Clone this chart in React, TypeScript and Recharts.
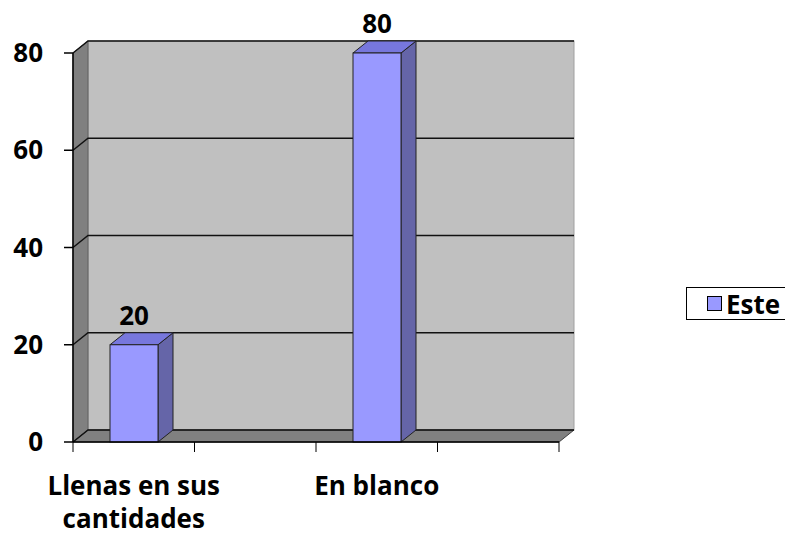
import {
  Bar,
  BarChart,
  CartesianGrid,
  LabelList,
  Legend,
  ReferenceArea,
  Text,
  XAxis,
  YAxis,
} from "recharts";

const categories = ["Llenas en sus cantidades", "", "En blanco", ""];
const esteValues = [20, null, 80, null];
const yTicks = [0, 20, 40, 60, 80];

const data = categories.map((name, i) => ({ name, este: esteValues[i] }));

// 3D depth of the walls and bars
const DX = 15;
const DY = 12;

const FONT = "'Open Sans', 'Noto Sans', sans-serif";
const FONT_SIZE = 26;
const LABEL_STYLE = { fontFamily: FONT, fontSize: FONT_SIZE, fontWeight: 700 };

const BAR_FRONT = "#9999ff";
const BAR_TOP = "#7777dd";
const BAR_SIDE = "#6565a8";

function Walls(props: any) {
  const { x, y, width, height } = props;
  const bottom = y + height;
  const right = x + width;
  return (
    <g>
      <rect x={x + DX} y={y - DY} width={width} height={height} fill="#c0c0c0" stroke="#a0a0a0" />
      <polygon
        points={`${x},${y} ${x + DX},${y - DY} ${x + DX},${bottom - DY} ${x},${bottom}`}
        fill="#808080"
        stroke="#606060"
      />
      <polygon
        points={`${x},${bottom} ${x + DX},${bottom - DY} ${right + DX},${bottom - DY} ${right},${bottom}`}
        fill="#808080"
        stroke="#404040"
      />
    </g>
  );
}

function GridLine(props: any) {
  const { x1, y1, x2 } = props;
  return (
    <polyline
      points={`${x1},${y1} ${x1 + DX},${y1 - DY} ${x2 + DX},${y1 - DY}`}
      fill="none"
      stroke="#111"
      strokeWidth={1.5}
    />
  );
}

function Bar3D(props: any) {
  const { x, y, width, height, value } = props;
  if (value == null || !height) return null;
  const r = x + width;
  const b = y + height;
  return (
    <g stroke="#222" strokeWidth={1}>
      <polygon points={`${r},${y} ${r + DX},${y - DY} ${r + DX},${b - DY} ${r},${b}`} fill={BAR_SIDE} />
      <polygon points={`${x},${y} ${x + DX},${y - DY} ${r + DX},${y - DY} ${r},${y}`} fill={BAR_TOP} />
      <rect x={x} y={y} width={width} height={height} fill={BAR_FRONT} />
    </g>
  );
}

const TICK_SIZE = 10;
const TICK_MARGIN = 25;

function CategoryTick(props: any) {
  const { x, y, payload, index, visibleTicksCount } = props;
  const half = payload.offset ?? 0;
  const axisY = y - TICK_MARGIN - TICK_SIZE;
  const isLast = index === (visibleTicksCount ?? categories.length) - 1;
  return (
    <g>
      <line x1={x - half} y1={axisY} x2={x - half} y2={axisY + TICK_SIZE} stroke="#000" />
      {isLast && (
        <line x1={x + half} y1={axisY} x2={x + half} y2={axisY + TICK_SIZE} stroke="#000" />
      )}
      {payload.value && (
        <Text
          x={x}
          y={y}
          width={190}
          textAnchor="middle"
          verticalAnchor="start"
          lineHeight={33}
          style={LABEL_STYLE}
          fill="#000"
        >
          {payload.value}
        </Text>
      )}
    </g>
  );
}

function LegendBox(props: any) {
  const items = props.payload ?? [];
  return (
    <div
      style={{
        boxSizing: "border-box",
        width: 110,
        height: 33,
        border: "1px solid #000",
        background: "#fff",
        display: "flex",
        alignItems: "center",
        paddingLeft: 20,
        ...LABEL_STYLE,
        color: "#000",
      }}
    >
      {items.map((item: any) => (
        <span key={item.value} style={{ display: "flex", alignItems: "center" }}>
          <span
            style={{
              display: "inline-block",
              width: 13,
              height: 13,
              background: BAR_FRONT,
              border: "1.5px solid #000",
              marginRight: 4,
            }}
          />
          {item.value}
        </span>
      ))}
    </div>
  );
}

export default function App() {
  return (
    <div
      style={{
        position: "absolute",
        left: 0,
        top: 0,
        width: 785,
        height: 537,
        overflow: "hidden",
        background: "#fff",
      }}
    >
      <BarChart
        width={785}
        height={537}
        data={data}
        margin={{ top: 53, right: 116, bottom: 0, left: 0 }}
        barSize={48}
      >
        <ReferenceArea y1={0} y2={80} shape={Walls} zIndex={-150} ifOverflow="visible" />
        <CartesianGrid horizontal={GridLine} vertical={false} />
        <XAxis
          dataKey="name"
          height={95}
          interval={0}
          tickLine={false}
          tickSize={TICK_SIZE}
          tickMargin={TICK_MARGIN}
          axisLine={{ stroke: "#000", strokeWidth: 1.5 }}
          tick={<CategoryTick />}
        />
        <YAxis
          domain={[0, 80]}
          ticks={yTicks}
          width={73}
          tickSize={9}
          tickMargin={21}
          axisLine={{ stroke: "#000", strokeWidth: 1.5 }}
          tickLine={{ stroke: "#000", strokeWidth: 1.5 }}
          tick={{ fontFamily: FONT, fontSize: FONT_SIZE, fontWeight: 700, fill: "#000" }}
        />
        <Legend
          layout="vertical"
          align="right"
          verticalAlign="middle"
          content={<LegendBox />}
          wrapperStyle={{ left: 686, top: 287, right: "auto", width: 110 }}
        />
        <Bar
          dataKey="este"
          name="Este"
          fill={BAR_FRONT}
          shape={Bar3D}
          isAnimationActive={false}
        >
          <LabelList
            dataKey="este"
            position="top"
            offset={20}
            fontFamily={FONT}
            fontSize={FONT_SIZE}
            fontWeight={700}
            fill="#000"
          />
        </Bar>
      </BarChart>
    </div>
  );
}
